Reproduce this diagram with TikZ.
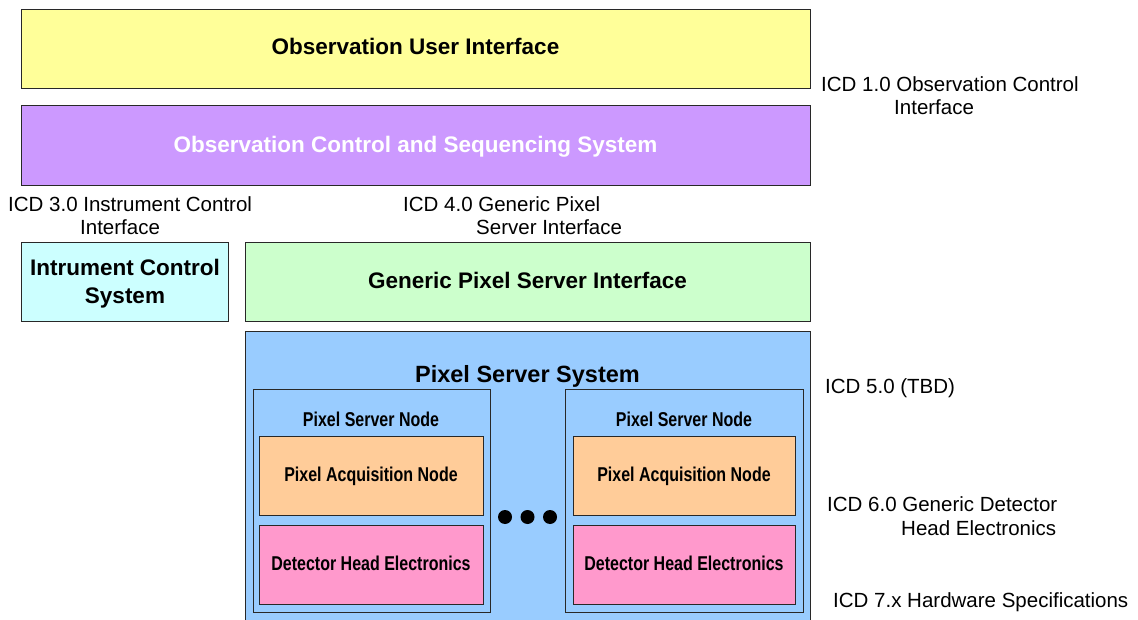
\documentclass[tikz,border=0pt]{standalone}
\usepackage{fontspec}
\setmainfont{Liberation Sans}
\newfontfamily\narrowfont[FakeStretch=0.8]{Liberation Sans}
\definecolor{cyellow}{RGB}{255,255,153}
\definecolor{cpurple}{RGB}{204,153,255}
\definecolor{ccyan}{RGB}{204,255,255}
\definecolor{cgreen}{RGB}{204,255,204}
\definecolor{cblue}{RGB}{153,204,255}
\definecolor{corange}{RGB}{255,204,153}
\definecolor{cpink}{RGB}{255,153,204}
\definecolor{cline}{RGB}{40,40,40}
\tikzset{
  box/.style={draw=cline, line width=0.9pt, inner sep=0pt, outer sep=0pt, anchor=north west},
  bigtxt/.style={inner sep=0pt, font=\fontsize{22.5}{28}\selectfont\bfseries},
  nodetxt/.style={inner sep=0pt, anchor=base, font=\fontsize{20}{24}\selectfont\narrowfont\bfseries},
  icdtxt/.style={inner sep=0pt, anchor=base west, align=left, font=\fontsize{20.5}{23.5}\selectfont},
  dot/.style={circle, fill=black, inner sep=0pt, minimum size=14pt}
}
\begin{document}
\begin{tikzpicture}[x=1pt,y=-1pt]
\useasboundingbox (0,0) rectangle (1138,620);
\clip (0,0) rectangle (1138,620);
\fill[white] (0,0) rectangle (1138,620);

% boxes
\node[box, fill=cyellow, minimum width=789pt, minimum height=79pt] (oui) at (21,9) {};
\node[box, fill=cpurple, minimum width=789pt, minimum height=80pt] (ocs) at (21,105) {};
\node[box, fill=ccyan, minimum width=207pt, minimum height=79pt] (ics) at (21,242) {};
\node[box, fill=cgreen, minimum width=565pt, minimum height=79pt] (gpsi) at (245,242) {};
\node[box, fill=cblue, minimum width=565pt, minimum height=300pt] (pss) at (245,331) {};
\node[box, fill=cblue, minimum width=237pt, minimum height=223pt] (psn1) at (253,389) {};
\node[box, fill=corange, minimum width=224pt, minimum height=79pt] (pan1) at (259,436) {};
\node[box, fill=cpink, minimum width=224pt, minimum height=79pt] (dhe1) at (259,525) {};
\node[box, fill=cblue, minimum width=238pt, minimum height=223pt] (psn2) at (565,389) {};
\node[box, fill=corange, minimum width=222pt, minimum height=79pt] (pan2) at (573,436) {};
\node[box, fill=cpink, minimum width=222pt, minimum height=79pt] (dhe2) at (573,525) {};

% box texts
\node[bigtxt, anchor=base] (oui-t) at (415.5,54.5) {Observation User Interface};
\node[bigtxt, anchor=base, text=white] (ocs-t) at (415.5,153) {Observation Control and Sequencing System};
\node[bigtxt, anchor=base, align=center] (ics-t) at (125,304) {Intrument Control\\System};
\node[bigtxt, anchor=base] (gpsi-t) at (527.5,289) {Generic Pixel Server Interface};
\node[bigtxt, anchor=base, font=\fontsize{23.5}{28}\selectfont\bfseries] (pss-t) at (527.5,382.5) {Pixel Server System};

\node[nodetxt] (psn1-t) at (371,426) {Pixel Server Node};
\node[nodetxt] (pan1-t) at (371,481) {Pixel Acquisition Node};
\node[nodetxt] (dhe1-t) at (371,570) {Detector Head Electronics};
\node[nodetxt] (psn2-t) at (684,426) {Pixel Server Node};
\node[nodetxt] (pan2-t) at (684,481) {Pixel Acquisition Node};
\node[nodetxt] (dhe2-t) at (684,570) {Detector Head Electronics};

% ellipsis dots
\node[dot] (d1) at (505,517) {};
\node[dot] (d2) at (527.5,517) {};
\node[dot] (d3) at (550,517) {};

% ICD labels
\node[icdtxt] (icd1) at (821,115) {ICD 1.0 Observation Control\\\hspace*{73pt}Interface};
\node[icdtxt] (icd3) at (8,235) {ICD 3.0 Instrument Control\\\hspace*{72pt}Interface};
\node[icdtxt] (icd4) at (403,235) {ICD 4.0 Generic Pixel\\\hspace*{73pt}Server Interface};
\node[icdtxt] (icd5) at (825,393) {ICD 5.0 (TBD)};
\node[icdtxt] (icd6) at (827,535) {ICD 6.0 Generic Detector\\\hspace*{74pt}Head Electronics};
\node[icdtxt] (icd7) at (833,607) {ICD 7.x Hardware Specifications};
\end{tikzpicture}
\end{document}
